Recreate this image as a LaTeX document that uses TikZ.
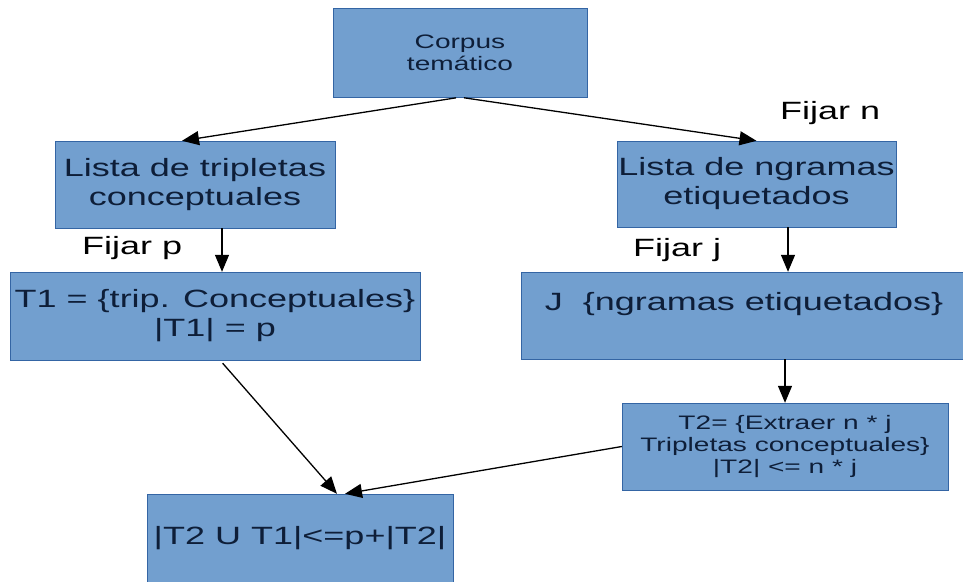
\documentclass[tikz,border=0pt]{standalone}
\usepackage{fontspec}
\setmainfont{Liberation Sans}[FakeStretch=1.44]
\usepackage{tikz}
\usetikzlibrary{positioning}
\usetikzlibrary{arrows.meta}
\definecolor{boxblue}{HTML}{729FCF}
\definecolor{boxedge}{HTML}{3465A4}
\definecolor{boxtext}{HTML}{0E1E38}
\newcommand{\bigtxt}{\fontsize{25}{29}\selectfont}
\newcommand{\smalltxt}{\fontsize{19.5}{22}\selectfont}
\tikzset {
  % blue process boxes
  box/.style = {draw=boxedge, fill=boxblue, text=boxtext, align=center, inner sep=0pt, font=\bigtxt},
  smallbox/.style = {font=\smalltxt},
  % the "Fijar" labels
  param/.style = {font=\bigtxt, text=black, inner sep=0pt, anchor=base west},
  % connectors
  flow/.style = {-{Triangle[length=17pt,width=14pt]}, line width=1.3pt},
}

\begin{document}
\begin{tikzpicture}[x=1pt, y=-1pt]
        \useasboundingbox (0,0) rectangle (963,581);

        \node[box, smallbox, minimum width=254, minimum height=89] (corpus) at (460,52.5) {Corpus\\temático};
        \node[box, minimum width=280, minimum height=87] (tri) at (195,184.5) {Lista de tripletas\\conceptuales};
        \node[box, minimum width=279, minimum height=86] (ngr) at (756.5,184) {Lista de ngramas\\etiquetados};
        \node[box, minimum width=410, minimum height=88] (T1) at (215,316) {T1 = \{trip. Conceptuales\}\\|T1| = p};
        \node[box, minimum width=446, minimum height=87] (J) at (744,315.5) {J\ \ \{ngramas etiquetados\}\\\mbox{}};
        \node[box, smallbox, minimum width=326, minimum height=87] (T2) at (785,446.5) {T2= \{Extraer n * j\\Tripletas conceptuales\}\\|T2| <= n * j};
        \node[box, minimum width=306, minimum height=88] (fin) at (300,538) {|T2 U T1|<=p+|T2|};

        \node[param] (fixn) at (780,119) {Fijar n};
        \node[param] (fixp) at (82,254) {Fijar p};
        \node[param] (fixj) at (633,256) {Fijar j};

        \draw [flow, shorten <=4pt] (corpus.south) -- ([xshift=-13]tri.north);
        \draw [flow, shorten <=4pt] (corpus.south) -- (ngr.north);
        \draw [flow] ([xshift=27]tri.south) -- ([xshift=27]tri.south |- T1.north);
        \draw [flow] ([xshift=31.5]ngr.south) -- ([xshift=31.5]ngr.south |- J.north);
        \draw [flow] (T2.north |- J.south) -- (T2.north);
        \draw [flow, shorten <=4pt] ([xshift=5]T1.south) -- ([xshift=37]fin.north);
        \draw [flow] (T2.west) -- ([xshift=45]fin.north);
      \end{tikzpicture}
\end{document}
